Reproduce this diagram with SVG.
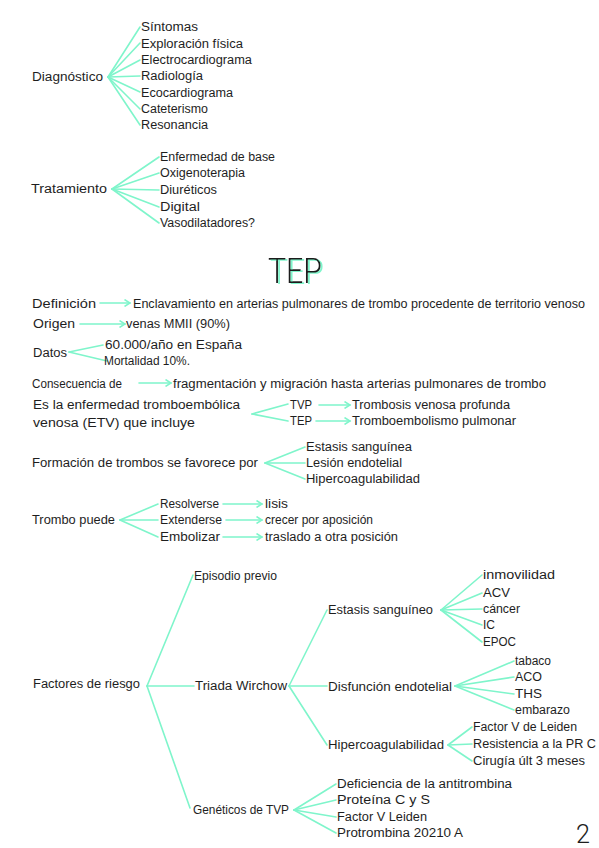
<svg xmlns="http://www.w3.org/2000/svg" width="599" height="848" viewBox="0 0 599 848">
<style>
text{font-family:"Liberation Sans","Noto Sans",sans-serif;font-size:12.5px;fill:#1e1e1e;}
.c line,.c path{stroke:#7ff5cb;stroke-width:1.6;fill:none;stroke-linecap:round;}
.a{marker-end:url(#ah);}
.title{font-family:Roboto,"Liberation Sans",sans-serif;font-size:35px;font-weight:300;filter:url(#shadow);}
</style>
<defs>
<marker id="ah" markerUnits="userSpaceOnUse" markerWidth="8" markerHeight="8" refX="6" refY="4" orient="auto">
<path d="M0.5,0.5 L6,4 L0.5,7.5" fill="none" stroke="#7ff5cb" stroke-width="1.5"/>
</marker>
<filter id="shadow" x="-10%" y="-10%" width="130%" height="130%">
<feFlood flood-color="#7ff5cb" result="g"/>
<feComposite in="g" in2="SourceAlpha" operator="in" result="gs"/>
<feOffset in="gs" dx="2" dy="0.5" result="off"/>
<feMerge><feMergeNode in="off"/><feMergeNode in="SourceGraphic"/></feMerge>
</filter>
</defs>
<rect width="599" height="848" fill="#ffffff"/>

<g class="c" id="connectors">
<line x1="108" y1="77" x2="140" y2="27"/>
<line x1="108" y1="77" x2="140" y2="43"/>
<line x1="108" y1="77" x2="140" y2="60"/>
<line x1="108" y1="77" x2="140" y2="76"/>
<line x1="108" y1="77" x2="140" y2="92"/>
<line x1="108" y1="77" x2="140" y2="109"/>
<line x1="108" y1="77" x2="140" y2="125"/>
<line x1="112" y1="189" x2="159" y2="157"/>
<line x1="112" y1="189" x2="159" y2="173"/>
<line x1="112" y1="189" x2="159" y2="190"/>
<line x1="112" y1="189" x2="159" y2="207"/>
<line x1="112" y1="189" x2="159" y2="223"/>
<line class="a" x1="100" y1="303" x2="130" y2="303"/>
<line class="a" x1="80" y1="324" x2="125" y2="324"/>
<line x1="69" y1="352" x2="103" y2="345"/>
<line x1="69" y1="352" x2="107" y2="361"/>
<line class="a" x1="139" y1="383" x2="171" y2="383"/>
<line x1="252" y1="414" x2="288" y2="404"/>
<line x1="252" y1="414" x2="288" y2="421"/>
<line class="a" x1="319" y1="405" x2="350" y2="405"/>
<line class="a" x1="316" y1="421" x2="350" y2="421"/>
<line x1="265" y1="463" x2="305" y2="447"/>
<line x1="265" y1="463" x2="305" y2="463"/>
<line x1="265" y1="463" x2="305" y2="479"/>
<line x1="120" y1="520" x2="158" y2="504"/>
<line x1="120" y1="520" x2="158" y2="520"/>
<line x1="120" y1="520" x2="158" y2="537"/>
<line class="a" x1="223" y1="504" x2="262" y2="504"/>
<line class="a" x1="226" y1="520" x2="262" y2="520"/>
<line class="a" x1="223" y1="537" x2="262" y2="537"/>
<line x1="147" y1="686" x2="193" y2="575"/>
<line x1="147" y1="686" x2="194" y2="686"/>
<line x1="147" y1="686" x2="190" y2="808"/>
<line x1="289" y1="686" x2="327" y2="610"/>
<line x1="289" y1="686" x2="327" y2="686"/>
<line x1="289" y1="686" x2="327" y2="745"/>
<line x1="441" y1="610" x2="482" y2="575"/>
<line x1="441" y1="610" x2="482" y2="593"/>
<line x1="441" y1="610" x2="482" y2="609"/>
<line x1="441" y1="610" x2="482" y2="625"/>
<line x1="441" y1="610" x2="482" y2="642"/>
<line x1="455" y1="686" x2="514" y2="661"/>
<line x1="455" y1="686" x2="514" y2="677"/>
<line x1="455" y1="686" x2="514" y2="694"/>
<line x1="455" y1="686" x2="514" y2="710"/>
<line x1="448" y1="745" x2="472" y2="727"/>
<line x1="448" y1="745" x2="472" y2="744"/>
<line x1="448" y1="745" x2="472" y2="761"/>
<line x1="294" y1="810" x2="336" y2="784"/>
<line x1="294" y1="810" x2="336" y2="800"/>
<line x1="294" y1="810" x2="336" y2="817"/>
<line x1="294" y1="810" x2="336" y2="833"/>
</g>

<g id="diagnostico">
<text x="32" y="81" textLength="71" lengthAdjust="spacingAndGlyphs">Diagnóstico</text>
<text x="141" y="31" textLength="57" lengthAdjust="spacingAndGlyphs">Síntomas</text>
<text x="141" y="47.5" textLength="102" lengthAdjust="spacingAndGlyphs">Exploración física</text>
<text x="141" y="64" textLength="111" lengthAdjust="spacingAndGlyphs">Electrocardiograma</text>
<text x="141" y="80" textLength="62" lengthAdjust="spacingAndGlyphs">Radiología</text>
<text x="141" y="96.5" textLength="92" lengthAdjust="spacingAndGlyphs">Ecocardiograma</text>
<text x="141" y="113" textLength="67" lengthAdjust="spacingAndGlyphs">Cateterismo</text>
<text x="141" y="129" textLength="67" lengthAdjust="spacingAndGlyphs">Resonancia</text>
</g>

<g id="tratamiento">
<text x="31" y="193" textLength="76" lengthAdjust="spacingAndGlyphs">Tratamiento</text>
<text x="160" y="161" textLength="115" lengthAdjust="spacingAndGlyphs">Enfermedad de base</text>
<text x="160" y="177" textLength="85" lengthAdjust="spacingAndGlyphs">Oxigenoterapia</text>
<text x="160" y="194" textLength="57" lengthAdjust="spacingAndGlyphs">Diuréticos</text>
<text x="160" y="211" textLength="40" lengthAdjust="spacingAndGlyphs">Digital</text>
<text x="160" y="227" textLength="95" lengthAdjust="spacingAndGlyphs">Vasodilatadores?</text>
</g>

<g id="titulo">
<text class="title" x="268" y="283" textLength="54" lengthAdjust="spacingAndGlyphs">TEP</text>
</g>

<g id="definicion">
<text x="32" y="308" textLength="64" lengthAdjust="spacingAndGlyphs">Definición</text>
<text x="133" y="308" textLength="452" lengthAdjust="spacingAndGlyphs">Enclavamiento en arterias pulmonares de trombo procedente de territorio venoso</text>
</g>

<g id="origen">
<text x="33" y="328" textLength="42" lengthAdjust="spacingAndGlyphs">Origen</text>
<text x="126" y="328" textLength="104" lengthAdjust="spacingAndGlyphs">venas MMII (90%)</text>
</g>

<g id="datos">
<text x="33" y="357" textLength="34" lengthAdjust="spacingAndGlyphs">Datos</text>
<text x="105" y="349" textLength="137" lengthAdjust="spacingAndGlyphs">60.000/año en España</text>
<text x="104" y="365" textLength="86" lengthAdjust="spacingAndGlyphs">Mortalidad 10%.</text>
</g>

<g id="consecuencia">
<text x="32" y="388" textLength="90" lengthAdjust="spacingAndGlyphs">Consecuencia de</text>
<text x="173" y="388" textLength="373" lengthAdjust="spacingAndGlyphs">fragmentación y migración hasta arterias pulmonares de trombo</text>
</g>

<g id="etv">
<text x="33" y="409" textLength="207" lengthAdjust="spacingAndGlyphs">Es la enfermedad tromboembólica</text>
<text x="33" y="427" textLength="162" lengthAdjust="spacingAndGlyphs">venosa (ETV) que incluye</text>
<text x="290" y="409" textLength="22" lengthAdjust="spacingAndGlyphs">TVP</text>
<text x="352" y="409" textLength="158" lengthAdjust="spacingAndGlyphs">Trombosis venosa profunda</text>
<text x="290" y="425" textLength="22" lengthAdjust="spacingAndGlyphs">TEP</text>
<text x="352" y="425" textLength="164" lengthAdjust="spacingAndGlyphs">Tromboembolismo pulmonar</text>
</g>

<g id="formacion">
<text x="32" y="467" textLength="226" lengthAdjust="spacingAndGlyphs">Formación de trombos se favorece por</text>
<text x="306" y="451" textLength="106" lengthAdjust="spacingAndGlyphs">Estasis sanguínea</text>
<text x="306" y="467" textLength="96" lengthAdjust="spacingAndGlyphs">Lesión endotelial</text>
<text x="306" y="483" textLength="114" lengthAdjust="spacingAndGlyphs">Hipercoagulabilidad</text>
</g>

<g id="trombo">
<text x="32" y="524" textLength="83" lengthAdjust="spacingAndGlyphs">Trombo puede</text>
<text x="160" y="508" textLength="59" lengthAdjust="spacingAndGlyphs">Resolverse</text>
<text x="265" y="508" textLength="23" lengthAdjust="spacingAndGlyphs">lisis</text>
<text x="160" y="524" textLength="62" lengthAdjust="spacingAndGlyphs">Extenderse</text>
<text x="265" y="524" textLength="108" lengthAdjust="spacingAndGlyphs">crecer por aposición</text>
<text x="160" y="541" textLength="60" lengthAdjust="spacingAndGlyphs">Embolizar</text>
<text x="265" y="541" textLength="133" lengthAdjust="spacingAndGlyphs">traslado a otra posición</text>
</g>

<g id="factores">
<text x="33" y="688" textLength="107" lengthAdjust="spacingAndGlyphs">Factores de riesgo</text>
</g>
<g id="episodio">
<text x="194" y="580" textLength="83" lengthAdjust="spacingAndGlyphs">Episodio previo</text>
</g>
<g id="triada">
<text x="195" y="690" textLength="92" lengthAdjust="spacingAndGlyphs">Triada Wirchow</text>
</g>
<g id="estasis">
<text x="328" y="614" textLength="105" lengthAdjust="spacingAndGlyphs">Estasis sanguíneo</text>
<text x="483" y="579" textLength="72" lengthAdjust="spacingAndGlyphs">inmovilidad</text>
<text x="483" y="597" textLength="27" lengthAdjust="spacingAndGlyphs">ACV</text>
<text x="483" y="613" textLength="37" lengthAdjust="spacingAndGlyphs">cáncer</text>
<text x="483" y="629" textLength="12" lengthAdjust="spacingAndGlyphs">IC</text>
<text x="483" y="646" textLength="33" lengthAdjust="spacingAndGlyphs">EPOC</text>
</g>
<g id="disfuncion">
<text x="328" y="691" textLength="124" lengthAdjust="spacingAndGlyphs">Disfunción endotelial</text>
<text x="515" y="665" textLength="36" lengthAdjust="spacingAndGlyphs">tabaco</text>
<text x="515" y="681" textLength="27" lengthAdjust="spacingAndGlyphs">ACO</text>
<text x="515" y="698" textLength="27" lengthAdjust="spacingAndGlyphs">THS</text>
<text x="515" y="714" textLength="55" lengthAdjust="spacingAndGlyphs">embarazo</text>
</g>
<g id="hipercoagulabilidad">
<text x="328" y="749" textLength="116" lengthAdjust="spacingAndGlyphs">Hipercoagulabilidad</text>
<text x="473" y="731" textLength="104" lengthAdjust="spacingAndGlyphs">Factor V de Leiden</text>
<text x="473" y="748" textLength="123" lengthAdjust="spacingAndGlyphs">Resistencia a la PR C</text>
<text x="473" y="765" textLength="112" lengthAdjust="spacingAndGlyphs">Cirugía últ 3 meses</text>
</g>
<g id="geneticos">
<text x="193" y="814" textLength="96" lengthAdjust="spacingAndGlyphs">Genéticos de TVP</text>
<text x="337" y="788" textLength="175" lengthAdjust="spacingAndGlyphs">Deficiencia de la antitrombina</text>
<text x="337" y="804" textLength="93" lengthAdjust="spacingAndGlyphs">Proteína C y S</text>
<text x="337" y="821" textLength="90" lengthAdjust="spacingAndGlyphs">Factor V Leiden</text>
<text x="337" y="837" textLength="126" lengthAdjust="spacingAndGlyphs">Protrombina 20210 A</text>
</g>

<g id="pagina">
<text x="576" y="843" textLength="14" lengthAdjust="spacingAndGlyphs" style="font-family:Roboto,'Liberation Sans',sans-serif;font-size:26px;font-weight:300">2</text>
</g>
</svg>
